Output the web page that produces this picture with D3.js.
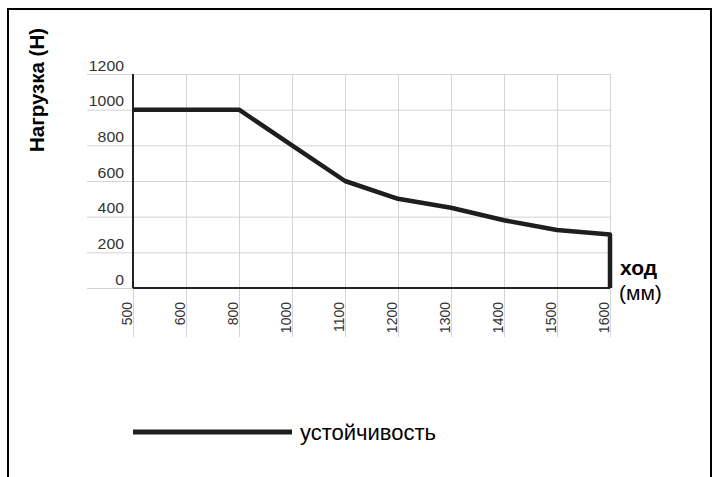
<!DOCTYPE html>
<html>
<head>
<meta charset="utf-8">
<script src="https://cdn.jsdelivr.net/npm/d3@7"></script>
<style>
  body { margin: 0; background: #fff; }
  svg { font-family: "Liberation Sans", Arial, sans-serif; }
</style>
</head>
<body>
<div id="chart"></div>
<script>
// stroke (mm) categories and load (N)
const strokes = ['500', '600', '800', '1000', '1100', '1200', '1300', '1400', '1500', '1600'];
const loads = [1000, 1000, 1000, 800, 600, 500, 450, 380, 325, 300];
const yTicks = [0, 200, 400, 600, 800, 1000, 1200];
const seriesName = 'устойчивость';

const dims = { width: 715, height: 477 };
const plot = { left: 133, right: 610, top: 74, bottom: 288 };

const svg = d3.select('#chart')
  .append('svg')
    .attr('width', dims.width)
    .attr('height', dims.height);

// outer frame (open at the bottom, runs off the picture)
svg.append('rect')
   .attr('x', 8).attr('y', 9)
   .attr('width', 703).attr('height', 480)
   .attr('fill', 'none')
   .attr('stroke', '#000')
   .attr('stroke-width', 2);

const x = d3.scalePoint()
            .domain(strokes)
            .range([plot.left, plot.right]);
const y = d3.scaleLinear()
            .domain([0, 1200])
            .range([plot.bottom, plot.top]);

// horizontal grid + labels
const yAxis = svg.append('g')
  .attr('transform', `translate(${plot.right}, 0)`)
  .call(d3.axisLeft(y).tickValues(yTicks).tickFormat(d3.format('d'))
          .tickSize(plot.right - 87).tickPadding(0));
yAxis.select('.domain').remove();
yAxis.selectAll('line').attr('stroke', '#d4d4d4');
yAxis.selectAll('text')
     .attr('x', -(plot.right - 124))
     .attr('dy', -4)
     .attr('font-size', 14)
     .attr('fill', '#333')
     .attr('font-family', '"Liberation Sans", Arial, sans-serif')
     .attr('textLength', d => String(d).length * 8.8)
     .attr('lengthAdjust', 'spacingAndGlyphs');

// vertical grid + rotated labels
const xAxis = svg.append('g')
  .attr('transform', `translate(0, ${plot.top})`)
  .call(d3.axisBottom(x).tickSize(337 - plot.top).tickPadding(0));
xAxis.select('.domain').remove();
xAxis.selectAll('line').attr('stroke', '#d4d4d4');
xAxis.selectAll('text')
     .attr('transform', `translate(-2, ${302 - plot.top}) rotate(-90)`)
     .attr('y', 0).attr('dy', 0)
     .attr('text-anchor', 'end')
     .attr('font-size', 14)
     .attr('fill', '#333')
     .attr('font-family', '"Liberation Sans", Arial, sans-serif');

// axis lines
svg.append('line')
   .attr('x1', plot.left).attr('x2', plot.left)
   .attr('y1', plot.top).attr('y2', plot.bottom)
   .attr('stroke', '#222').attr('stroke-width', 2);
svg.append('line')
   .attr('x1', plot.left).attr('x2', plot.right)
   .attr('y1', plot.bottom).attr('y2', plot.bottom)
   .attr('stroke', '#222').attr('stroke-width', 2);

// series, dropping to zero at the last stroke
const pts = strokes.map((s, i) => [s, loads[i]]);
pts.push([strokes[strokes.length - 1], 0]);
const line = d3.line()
               .x(d => x(d[0]))
               .y(d => y(d[1]));
svg.append('path')
   .datum(pts)
   .attr('d', line)
   .attr('fill', 'none')
   .attr('stroke', '#1e1e1e')
   .attr('stroke-width', 4.5)
   .attr('stroke-linejoin', 'round');

// axis titles
svg.append('text')
   .attr('transform', 'translate(44, 90) rotate(-90)')
   .attr('text-anchor', 'middle')
   .attr('font-size', 20.5)
   .attr('font-weight', 'bold')
   .text('Нагрузка (Н)');
svg.append('text')
   .attr('x', 620).attr('y', 275)
   .attr('font-size', 21)
   .attr('font-weight', 'bold')
   .text('ход');
svg.append('text')
   .attr('x', 619).attr('y', 300)
   .attr('font-size', 21)
   .text('(мм)');

// legend
const legendGroup = svg.append('g').attr('transform', 'translate(133, 432)');
legendGroup.append('line')
   .attr('x1', 0).attr('x2', 159)
   .attr('stroke', '#1e1e1e')
   .attr('stroke-width', 5);
legendGroup.append('text')
   .attr('x', 167).attr('y', 8)
   .attr('font-size', 22)
   .text(seriesName);
</script>
</body>
</html>
